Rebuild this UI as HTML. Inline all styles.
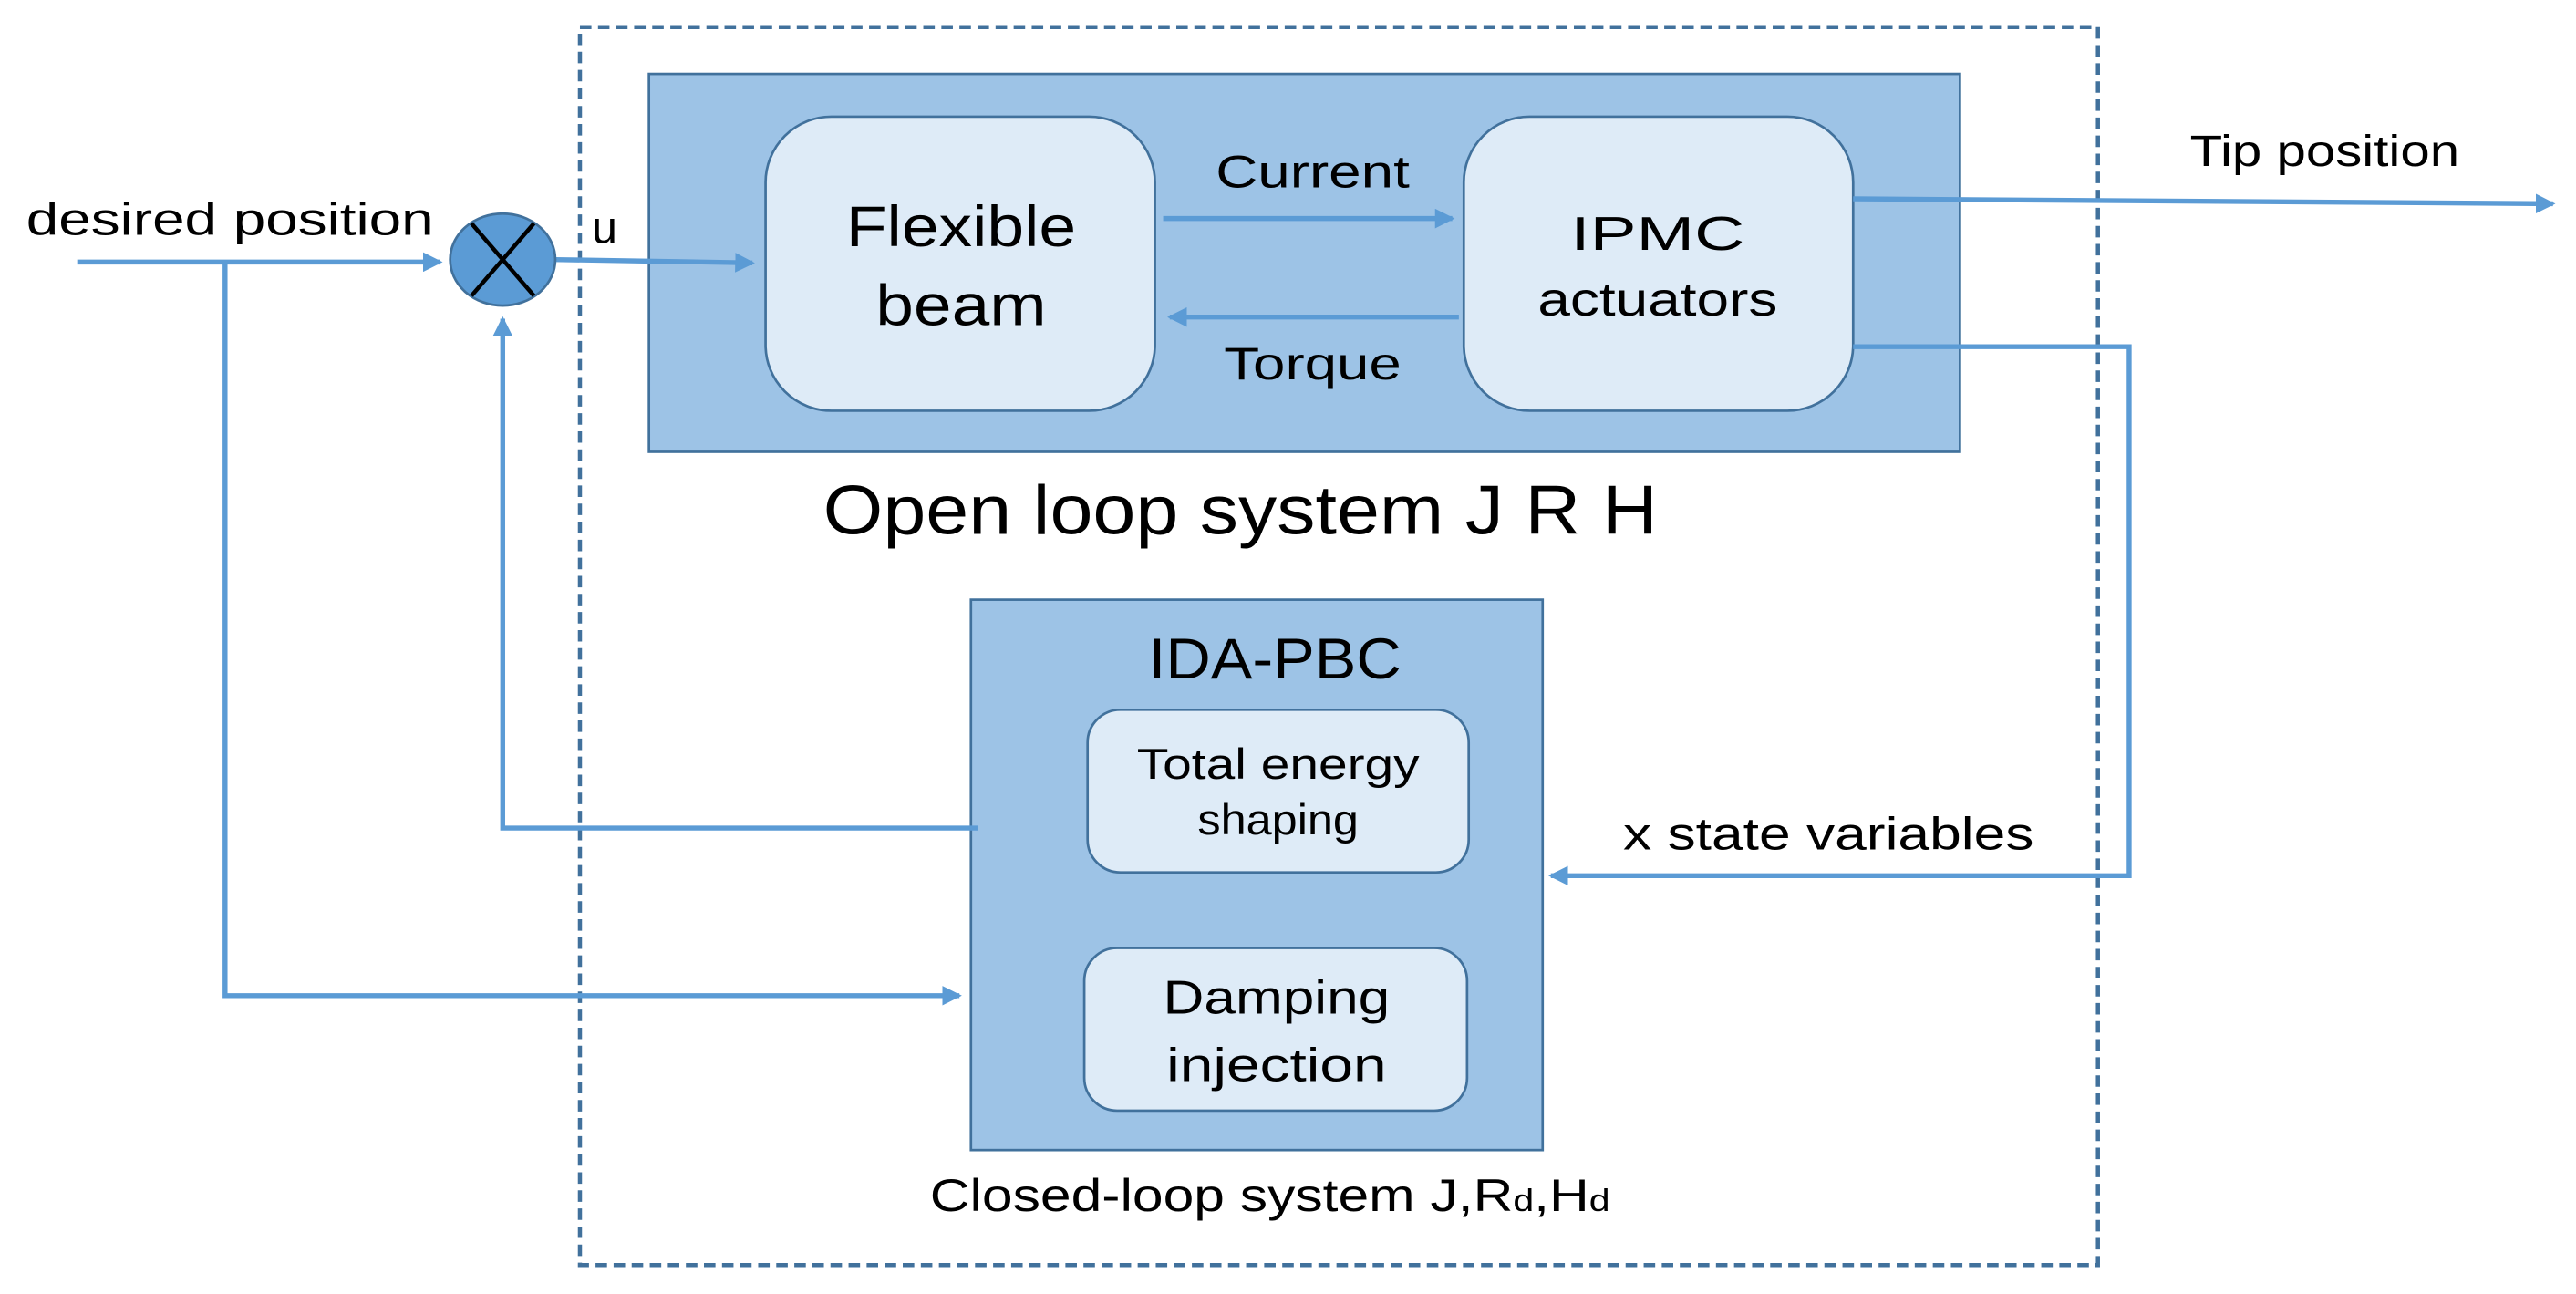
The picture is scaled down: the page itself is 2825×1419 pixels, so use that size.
<!DOCTYPE html>
<html><head><meta charset="utf-8"><style>html,body{margin:0;padding:0;background:#fff}svg{display:block}</style></head>
<body>
<svg width="2825" height="1419" viewBox="0 0 1568 787.6" xmlns="http://www.w3.org/2000/svg" font-family="Liberation Sans, sans-serif">
<defs>
<marker id="a" markerWidth="4" markerHeight="4" refX="3.5" refY="2" orient="auto" markerUnits="strokeWidth"><path d="M0,0 L4,2 L0,4 Z" fill="#5b9bd5"/></marker>
</defs>
<rect x="353" y="16.5" width="924" height="753.5" fill="none" stroke="#41719c" stroke-width="2.5" stroke-dasharray="7,4"/>
<rect x="395" y="45" width="798" height="230" fill="#9dc3e6" stroke="#41719c" stroke-width="1.5"/>
<rect x="466" y="71" width="237" height="179" rx="40" fill="#deebf7" stroke="#41719c" stroke-width="1.5"/>
<rect x="891" y="71" width="237" height="179" rx="40" fill="#deebf7" stroke="#41719c" stroke-width="1.5"/>
<rect x="591" y="365" width="348" height="335" fill="#9dc3e6" stroke="#41719c" stroke-width="1.5"/>
<rect x="662" y="432" width="232" height="99" rx="20" fill="#deebf7" stroke="#41719c" stroke-width="1.5"/>
<rect x="660" y="577" width="233" height="99" rx="20" fill="#deebf7" stroke="#41719c" stroke-width="1.5"/>
<g stroke="#5b9bd5" stroke-width="3" fill="none">
<line x1="47" y1="159.5" x2="268" y2="159.5" marker-end="url(#a)"/>
<polyline points="137,159.5 137,606 584,606" marker-end="url(#a)"/>
<polyline points="595,504 306,504 306,194" marker-end="url(#a)"/>
<line x1="338" y1="158" x2="458" y2="160" marker-end="url(#a)"/>
<line x1="708" y1="133" x2="884" y2="133" marker-end="url(#a)"/>
<line x1="888" y1="193" x2="712" y2="193" marker-end="url(#a)"/>
<line x1="1128" y1="121" x2="1554" y2="124" marker-end="url(#a)"/>
<polyline points="1128,211 1296,211 1296,533 944,533" marker-end="url(#a)"/>
</g>
<ellipse cx="306" cy="158" rx="32" ry="28" fill="#5b9bd5" stroke="#41719c" stroke-width="1.5"/>
<line x1="287" y1="136" x2="325" y2="180" stroke="#000" stroke-width="2.5"/>
<line x1="325" y1="136" x2="287" y2="180" stroke="#000" stroke-width="2.5"/>
<g fill="#000" text-anchor="middle">
<text x="140" y="143" font-size="28" textLength="248" lengthAdjust="spacingAndGlyphs">desired position</text>
<text x="368" y="148" font-size="28">u</text>
<text x="585" y="150" font-size="35" textLength="140" lengthAdjust="spacingAndGlyphs">Flexible</text>
<text x="585" y="198" font-size="35" textLength="104" lengthAdjust="spacingAndGlyphs">beam</text>
<text x="1009" y="152" font-size="29" textLength="106" lengthAdjust="spacingAndGlyphs">IPMC</text>
<text x="1009" y="192" font-size="29" textLength="146" lengthAdjust="spacingAndGlyphs">actuators</text>
<text x="799" y="114" font-size="28" textLength="118" lengthAdjust="spacingAndGlyphs">Current</text>
<text x="799" y="231" font-size="28" textLength="108" lengthAdjust="spacingAndGlyphs">Torque</text>
<text x="1415" y="101" font-size="27" textLength="164" lengthAdjust="spacingAndGlyphs">Tip position</text>
<text x="755" y="325" font-size="42" textLength="508" lengthAdjust="spacingAndGlyphs">Open loop system J R H</text>
<text x="776" y="413" font-size="35" textLength="154" lengthAdjust="spacingAndGlyphs">IDA-PBC</text>
<text x="778" y="474" font-size="26" textLength="172" lengthAdjust="spacingAndGlyphs">Total energy</text>
<text x="778" y="508" font-size="26" textLength="98" lengthAdjust="spacingAndGlyphs">shaping</text>
<text x="777" y="617" font-size="29" textLength="138" lengthAdjust="spacingAndGlyphs">Damping</text>
<text x="777" y="658" font-size="29" textLength="134" lengthAdjust="spacingAndGlyphs">injection</text>
<text x="1113" y="517" font-size="28" textLength="250" lengthAdjust="spacingAndGlyphs">x state variables</text>
<text x="566" y="737" font-size="28" text-anchor="start" textLength="414" lengthAdjust="spacingAndGlyphs">Closed-loop system J,R<tspan font-size="19">d</tspan>,H<tspan font-size="19">d</tspan></text>
</g>
</svg>
</body></html>
